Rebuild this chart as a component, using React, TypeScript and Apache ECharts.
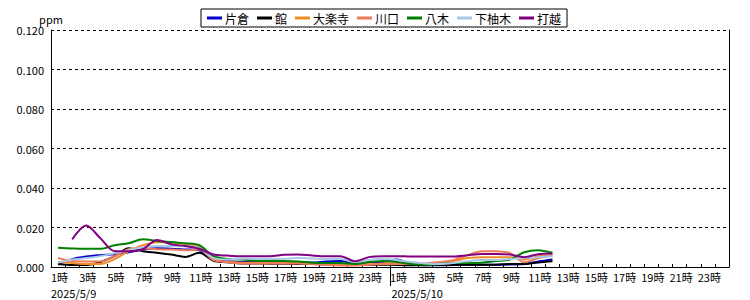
import React, { useEffect, useRef } from "react";
import * as echarts from "echarts";

const hours = [
  "1時", "2時", "3時", "4時", "5時", "6時", "7時", "8時", "9時", "10時", "11時", "12時",
  "13時", "14時", "15時", "16時", "17時", "18時", "19時", "20時", "21時", "22時", "23時", "24時",
  "1時", "2時", "3時", "4時", "5時", "6時", "7時", "8時", "9時", "10時", "11時", "12時",
  "13時", "14時", "15時", "16時", "17時", "18時", "19時", "20時", "21時", "22時", "23時", "24時",
];
const dates = ["2025/5/9", "2025/5/10"];
const yTicks = [0, 0.02, 0.04, 0.06, 0.08, 0.1, 0.12];

const katakura = [
  0.0012, 0.004, 0.0053, 0.006, 0.0065, 0.0075, 0.0088, 0.0095, 0.0093, 0.0089, 0.0085, 0.0038,
  0.0029, 0.0025, 0.0025, 0.0023, 0.0023, 0.0023, 0.0023, 0.0028, 0.003, 0.0018, 0.0023, 0.0025,
  0.0038, 0.0015, 0.0009, 0.0009, 0.001, 0.0012, 0.0012, 0.0012, 0.0013, 0.0015, 0.0028, 0.0038,
];
const tate = [
  0.0015, 0.001, 0.001, 0.0025, 0.0055, 0.0095, 0.008, 0.0072, 0.0063, 0.0051, 0.0072, 0.0032,
  0.0024, 0.0018, 0.0018, 0.0017, 0.0017, 0.0015, 0.0015, 0.0012, 0.0012, 0.001, 0.0012, 0.0012,
  0.001, 0.0009, 0.0009, 0.001, 0.001, 0.0012, 0.0012, 0.0012, 0.0015, 0.0015, 0.0023, 0.0029,
];
const dairakuji = [
  0.0025, 0.002, 0.0015, 0.0015, 0.004, 0.008, 0.011, 0.0125, 0.0125, 0.0115, 0.0105, 0.004,
  0.0026, 0.0022, 0.0022, 0.002, 0.002, 0.002, 0.0018, 0.0015, 0.0015, 0.001, 0.0015, 0.0018,
  0.002, 0.0015, 0.0015, 0.002, 0.003, 0.0045, 0.005, 0.005, 0.005, 0.0038, 0.0055, 0.0058,
];
const kawaguchi = [
  0.0046, 0.003, 0.0028, 0.0028, 0.0055, 0.009, 0.0095, 0.009, 0.0088, 0.0085, 0.0088, 0.0035,
  0.0025, 0.0018, 0.0018, 0.0018, 0.0018, 0.0018, 0.0015, 0.001, 0.0008, 0.0008, 0.0012, 0.0015,
  0.0015, 0.0015, 0.0018, 0.0025, 0.0035, 0.006, 0.008, 0.008, 0.007, 0.0024, 0.0045, 0.006,
];
const yagi = [
  0.0097, 0.0094, 0.0092, 0.0092, 0.011, 0.012, 0.014, 0.0132, 0.0126, 0.012, 0.011, 0.0055,
  0.0041, 0.0038, 0.0032, 0.003, 0.003, 0.0028, 0.0022, 0.002, 0.002, 0.0015, 0.0025, 0.003,
  0.0025, 0.0015, 0.0012, 0.0015, 0.002, 0.002, 0.0022, 0.003, 0.0038, 0.0075, 0.0085, 0.0072,
];
const shimoyugi = [
  0.0022, 0.0038, 0.0045, 0.0055, 0.007, 0.0085, 0.01, 0.0106, 0.0106, 0.0105, 0.0097, 0.0045,
  0.0038, 0.0042, 0.0042, 0.004, 0.0042, 0.0045, 0.0043, 0.004, 0.004, 0.0025, 0.0035, 0.004,
  0.0035, 0.0025, 0.0018, 0.0015, 0.002, 0.0029, 0.0035, 0.0035, 0.0041, 0.0045, 0.005, 0.0055,
];
const uchikoshi = [
  null, 0.014, 0.021, 0.0145, 0.008, 0.008, 0.009, 0.0137, 0.0115, 0.0106, 0.0092, 0.0063,
  0.0058, 0.0055, 0.0055, 0.0055, 0.0062, 0.0063, 0.0058, 0.0055, 0.0055, 0.0029, 0.005, 0.0055,
  0.0055, 0.0053, 0.0053, 0.0053, 0.0053, 0.006, 0.0066, 0.0066, 0.0063, 0.005, 0.0065, 0.0068,
];

const seriesNames = ["片倉", "館", "大楽寺", "川口", "八木", "下柚木", "打越"];
const seriesColors = ["#0000cc", "#000000", "#f08c28", "#f07a5c", "#008000", "#a8c8e8", "#800080"];
const seriesData = [katakura, tate, dairakuji, kawaguchi, yagi, shimoyugi, uchikoshi];

const FONT = '"Noto Sans CJK JP", "Noto Sans", sans-serif';

export default function App() {
  const ref = useRef<HTMLDivElement>(null);

  useEffect(() => {
    document.body.style.margin = "0";
    if (!ref.current) return;
    const chart = echarts.init(ref.current, undefined, { renderer: "svg" });
    chart.setOption({
      animation: false,
      backgroundColor: "#ffffff",
      textStyle: { fontFamily: FONT },
      grid: { left: 51, right: 21, top: 30, bottom: 33, containLabel: false },
      legend: {
        data: seriesNames,
        left: 201,
        top: 9,
        icon: "rect",
        itemWidth: 15,
        itemHeight: 3,
        itemGap: 8,
        padding: [3, 6, 3, 6],
        borderColor: "#000",
        borderWidth: 1,
        borderRadius: 0,
        textStyle: { fontSize: 12, color: "#000", fontFamily: FONT, padding: [0, 0, 0, -2] },
      },
      xAxis: {
        type: "category",
        data: hours,
        boundaryGap: true,
        axisLine: { show: true, lineStyle: { color: "#000", width: 1 } },
        axisTick: { show: true, inside: true, length: 3, interval: 0, lineStyle: { color: "#000" } },
        axisLabel: {
          interval: 1,
          fontSize: 11,
          lineHeight: 11,
          color: "#000",
          margin: 4,
          padding: [0, 0, 0, 3],
          fontFamily: FONT,
        },
        splitLine: { show: false },
      },
      yAxis: [
        {
          type: "value",
          min: yTicks[0],
          max: yTicks[yTicks.length - 1],
          interval: 0.02,
          name: "ppm",
          nameLocation: "end",
          nameGap: 6,
          nameTextStyle: { fontSize: 11, color: "#000", fontFamily: FONT },
          axisLine: { show: true, lineStyle: { color: "#000", width: 1 } },
          axisTick: { show: false },
          axisLabel: {
            fontSize: 11,
            color: "#000",
            margin: 7,
            fontFamily: FONT,
            formatter: (v: number) => v.toFixed(3),
          },
          splitLine: { show: true, lineStyle: { type: [3, 3], color: "#000", width: 1 } },
        },
        {
          type: "value",
          position: "right",
          min: yTicks[0],
          max: yTicks[yTicks.length - 1],
          interval: 0.02,
          axisLine: { show: true, lineStyle: { color: "#000", width: 1 } },
          axisTick: { show: false },
          axisLabel: { show: false },
          splitLine: { show: false },
        },
      ],
      series: seriesNames.map((name, i) => ({
        name,
        type: "line",
        data: seriesData[i],
        smooth: 0.3,
        symbol: "none",
        showSymbol: false,
        connectNulls: false,
        lineStyle: { color: seriesColors[i], width: 2 },
        itemStyle: { color: seriesColors[i] },
      })),
    });

    const p23 = chart.convertToPixel({ xAxisIndex: 0 }, 23) as number;
    const p24 = chart.convertToPixel({ xAxisIndex: 0 }, 24) as number;
    const p0 = chart.convertToPixel({ xAxisIndex: 0 }, 0) as number;
    const y0 = chart.convertToPixel({ yAxisIndex: 0 }, 0) as number;
    const sepX = Math.round((p23 + p24) / 2) + 0.5;
    const bandHalf = (p24 - p23) / 2;
    const dayLeft = p0 - bandHalf;
    chart.setOption({
      graphic: [
        {
          type: "line",
          shape: { x1: sepX, y1: y0, x2: sepX, y2: y0 + 19 },
          style: { stroke: "#000", lineWidth: 1 },
          z: 100,
        },
        {
          type: "text",
          x: dayLeft,
          y: y0 + 20,
          style: {
            text: dates[0],
            fill: "#000",
            fontSize: 11,
            lineHeight: 11,
            fontFamily: FONT,
            align: "left",
            verticalAlign: "top",
          },
        },
        {
          type: "text",
          x: sepX + 1,
          y: y0 + 20,
          style: {
            text: dates[1],
            fill: "#000",
            fontSize: 11,
            lineHeight: 11,
            fontFamily: FONT,
            align: "left",
            verticalAlign: "top",
          },
        },
      ],
    });

    return () => {
      chart.dispose();
    };
  }, []);

  return <div ref={ref} style={{ width: 750, height: 300 }} />;
}
